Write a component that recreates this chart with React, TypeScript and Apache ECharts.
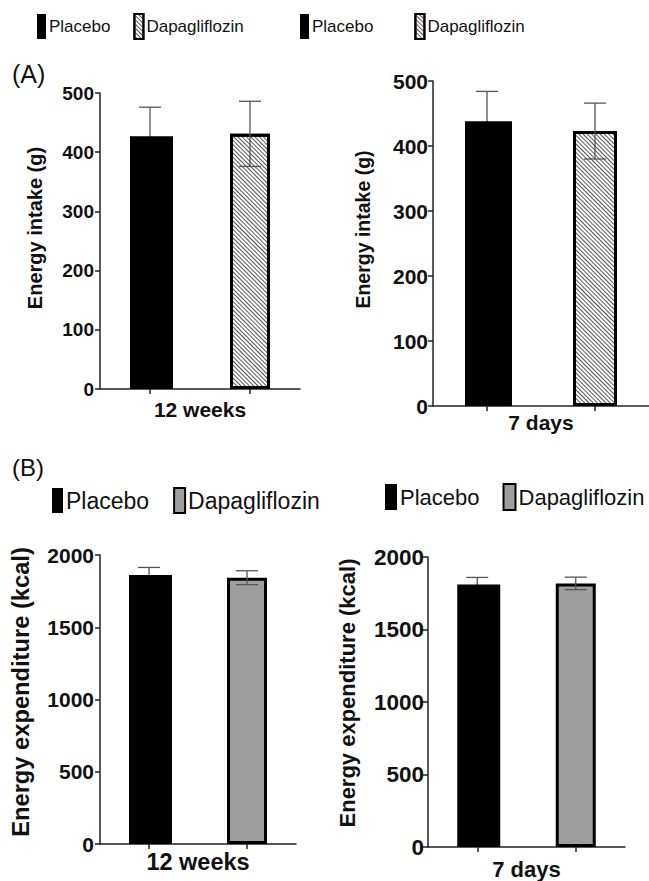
import React, { useEffect, useRef } from 'react';
import * as echarts from 'echarts';

// ---- data ----
const groups = ['12 weeks', '7 days'];
const treatments = ['Placebo', 'Dapagliflozin'];
const intakePlacebo = [427, 438];
const intakePlaceboSD = [49, 46];
const intakeDapa = [431, 423];
const intakeDapaSD = [55, 43];
const expenditurePlacebo = [1861, 1811];
const expenditurePlaceboSD = [53, 48];
const expenditureDapa = [1843, 1818];
const expenditureDapaSD = [48, 43];
const intakeMax = 500;
const intakeStep = 100;
const expenditureMax = 2000;
const expenditureStep = 500;
const intakeTitle = 'Energy intake (g)';
const expenditureTitle = 'Energy expenditure (kcal)';

const FONT = '"Liberation Sans", Arial, Helvetica, sans-serif';

type Layout = {
  key: string; measure: 'intake' | 'exp'; g: number;
  left: number; top: number; width: number; height: number;
  barW: number; labelSize: number; labelMargin: number;
  titleSize: number; titleGap: number; titlePad: number;
  catSize: number; catGap: number;
  legend: { left: number; top: number; w: number; h: number; gap: number; size: number };
};

const layouts: Layout[] = [
  { key: 'A1', measure: 'intake', g: 0, left: 100, top: 93, width: 200, height: 296, barW: 43, labelSize: 19, labelMargin: 6,
    titleSize: 20, titleGap: 55, titlePad: 26, catSize: 21, catGap: 10,
    legend: { left: 37, top: 13, w: 9, h: 25, gap: 23, size: 17 } },
  { key: 'A2', measure: 'intake', g: 1, left: 433, top: 81, width: 217, height: 325, barW: 47, labelSize: 21, labelMargin: 5,
    titleSize: 19.5, titleGap: 60, titlePad: 28, catSize: 21, catGap: 6,
    legend: { left: 300, top: 13, w: 9, h: 25, gap: 41, size: 17 } },
  { key: 'B1', measure: 'exp', g: 0, left: 100, top: 555, width: 196, height: 289, barW: 43, labelSize: 21, labelMargin: 6,
    titleSize: 23.7, titleGap: 67, titlePad: 15, catSize: 23.5, catGap: 6,
    legend: { left: 52, top: 487, w: 11, h: 25, gap: 24, size: 23 } },
  { key: 'B2', measure: 'exp', g: 1, left: 428, top: 557, width: 197, height: 292, barW: 43, labelSize: 22.5, labelMargin: 4,
    titleSize: 22, titleGap: 70, titlePad: 18, catSize: 22, catGap: 11,
    legend: { left: 385, top: 483, w: 12, h: 26, gap: 23, size: 22 } },
];

function errorBars(name: string, idx: number, cat: number, mean: number, sd: number, z: number) {
  return {
    type: 'custom',
    name,
    xAxisIndex: idx,
    yAxisIndex: idx,
    z,
    silent: true,
    data: [[cat, mean, sd]],
    renderItem: (_p: any, api: any) => {
      const x = api.value(0);
      const m = api.value(1);
      const s = api.value(2);
      const top = api.coord([x, m + s]);
      const bot = api.coord([x, m - s]);
      const cap = 11;
      const style = { stroke: '#555', lineWidth: 1.3, fill: 'none' };
      return {
        type: 'group',
        children: [
          { type: 'line', shape: { x1: top[0], y1: top[1], x2: bot[0], y2: bot[1] }, style },
          { type: 'line', shape: { x1: top[0] - cap, y1: top[1], x2: top[0] + cap, y2: top[1] }, style },
          { type: 'line', shape: { x1: bot[0] - cap, y1: bot[1], x2: bot[0] + cap, y2: bot[1] }, style },
        ],
      };
    },
  };
}

export default function App() {
  const ref = useRef<HTMLDivElement>(null);
  useEffect(() => {
    if (!ref.current) return;
    const chart = echarts.init(ref.current, null, { renderer: 'svg' });

    const grid: any[] = [];
    const xAxis: any[] = [];
    const yAxis: any[] = [];
    const series: any[] = [];
    const legend: any[] = [];

    layouts.forEach((L, i) => {
      const isIntake = L.measure === 'intake';
      const pl = isIntake ? intakePlacebo : expenditurePlacebo;
      const plSD = isIntake ? intakePlaceboSD : expenditurePlaceboSD;
      const da = isIntake ? intakeDapa : expenditureDapa;
      const daSD = isIntake ? intakeDapaSD : expenditureDapaSD;
      grid.push({ left: L.left, top: L.top, width: L.width, height: L.height });
      xAxis.push({
        type: 'category', gridIndex: i, data: treatments,
        axisLine: { lineStyle: { color: '#222', width: 1.5 } },
        axisTick: { show: true, alignWithLabel: true, length: 5, lineStyle: { color: '#222', width: 1.5 } },
        axisLabel: { show: false },
        name: groups[L.g], nameLocation: 'middle', nameGap: L.catGap,
        nameTextStyle: { fontFamily: FONT, fontWeight: 'bold', fontSize: L.catSize, color: '#111', verticalAlign: 'top' },
      });
      yAxis.push({
        type: 'value', gridIndex: i, min: 0,
        max: isIntake ? intakeMax : expenditureMax,
        interval: isIntake ? intakeStep : expenditureStep,
        splitLine: { show: false },
        axisLine: { show: true, lineStyle: { color: '#222', width: 1.5 } },
        axisTick: { show: true, length: 5, lineStyle: { color: '#222', width: 1.5 } },
        axisLabel: {
          fontFamily: FONT, fontWeight: 'bold', fontSize: L.labelSize, color: '#111', margin: L.labelMargin,
          formatter: (v: number) => String(v),
        },
        name: isIntake ? intakeTitle : expenditureTitle,
        nameLocation: 'middle', nameRotate: 90, nameGap: L.titleGap,
        nameTextStyle: { fontFamily: FONT, fontWeight: 'bold', fontSize: L.titleSize, color: '#111', padding: [0, 0, 0, L.titlePad] },
      });
      const plName = `Placebo ${L.key}`;
      const daName = `Dapagliflozin ${L.key}`;
      series.push({
        type: 'bar', name: plName, xAxisIndex: i, yAxisIndex: i, barWidth: L.barW, barGap: '-100%', z: 2,
        data: [pl[L.g], '-'],
        itemStyle: { color: '#000', borderColor: '#000', borderWidth: 0 },
      });
      series.push({
        type: 'bar', name: daName, xAxisIndex: i, yAxisIndex: i, barWidth: L.barW - 3, barGap: '-100%', z: 2,
        data: ['-', da[L.g]],
        itemStyle: isIntake
          ? {
              color: '#ffffff', borderColor: '#000', borderWidth: 3,
              decal: { symbol: 'rect', symbolSize: 1, color: '#555', dashArrayX: [1, 0], dashArrayY: [1, 1.5], rotation: Math.PI / 4 },
            }
          : { color: '#9e9e9e', borderColor: '#000', borderWidth: 3 },
      });
      series.push(errorBars(`SD placebo ${L.key}`, i, 0, pl[L.g], plSD[L.g], 1));
      series.push(errorBars(`SD dapagliflozin ${L.key}`, i, 1, da[L.g], daSD[L.g], 3));

      legend.push({
        data: [plName, daName], left: L.legend.left, top: L.legend.top, orient: 'horizontal',
        icon: 'rect', itemWidth: L.legend.w, itemHeight: L.legend.h, itemGap: L.legend.gap, padding: 0,
        selectedMode: false,
        formatter: (n: string) => n.replace(/ [AB]\d$/, ''),
        textStyle: { fontFamily: FONT, fontSize: L.legend.size, color: '#111', padding: [0, 0, 0, -2] },
      });
    });

    chart.setOption({
      animation: false,
      backgroundColor: '#fff',
      title: [
        { text: '(A)', left: 12, top: 61, padding: 0, textStyle: { fontFamily: FONT, fontWeight: 'normal', fontSize: 25, color: '#111' } },
        { text: '(B)', left: 12, top: 455, padding: 0, textStyle: { fontFamily: FONT, fontWeight: 'normal', fontSize: 24, color: '#111' } },
      ],
      legend,
      grid,
      xAxis,
      yAxis,
      series,
    });
    return () => chart.dispose();
  }, []);
  return <div ref={ref} style={{ position: 'fixed', left: 0, top: 0, width: 649, height: 881 }} />;
}
